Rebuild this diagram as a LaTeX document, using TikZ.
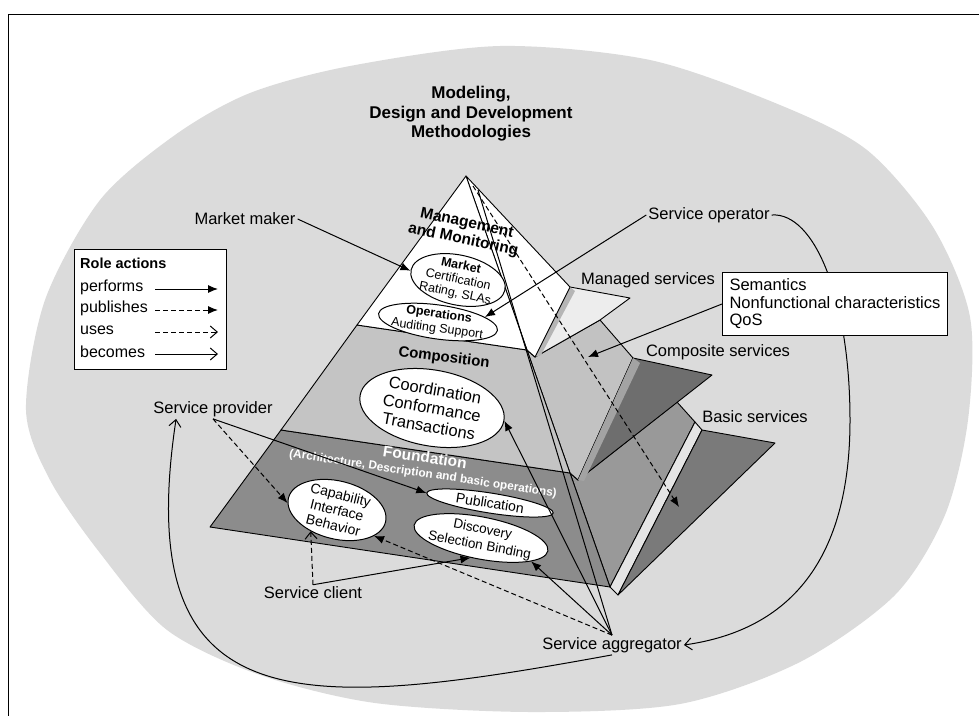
\documentclass[tikz,border=0pt]{standalone}
\usepackage{fontspec}
\setmainfont{Liberation Sans}
\usetikzlibrary{arrows.meta,shapes.geometric}
\tikzset{
    % role action arrows
    performs/.style={-{Latex[length=10pt,width=8pt]}, line width=1pt},
    publishes/.style={performs, dash pattern=on 5pt off 3pt},
    uses/.style={-{Straight Barb[length=7pt,width=12pt]}, line width=1pt, dash pattern=on 5pt off 3pt},
    becomes/.style={-{Straight Barb[length=7pt,width=12pt]}, line width=1pt},
    % labels and bubbles
    lbl/.style={font=\fontsize{16.5}{18}\selectfont, inner sep=2pt},
    bubble/.style={ellipse, draw, fill=white, line width=1pt, inner sep=-4pt, align=center},
    face/.style={draw, line width=0.9pt, line join=round}
}
\begin{document}
\begin{tikzpicture}[x=1pt,y=-1pt]
\useasboundingbox (0,0) rectangle (979,715);
% frame and background
\draw[line width=1pt] (8,716) -- (8,14) -- (980,14);
\fill[black!14] plot[smooth cycle] coordinates {(26,410) (45,300) (100,200) (175,135) (250,93) (350,66) (500,46) (650,60) (780,105) (867,150) (933,227) (970,317) (968,420) (945,515) (895,595) (800,662) (680,704) (530,712) (375,703) (260,675) (167,630) (100,553) (50,480)};

% pyramid corners
\coordinate (apex) at (466,176);
\coordinate (wl) at (357,325);
\coordinate (wr) at (527,350);
\coordinate (cl) at (281,430);
\coordinate (cr) at (570,473);
\coordinate (fl) at (210,527);
\coordinate (fr) at (610,587);
% right face corners
\coordinate (m1) at (570,287);
\coordinate (m2) at (630,298);
\coordinate (m3) at (600,320);
\coordinate (m4) at (535,357);
\coordinate (c1) at (633,358);
\coordinate (c2) at (712,375);
\coordinate (c3) at (578,480);
\coordinate (b1) at (677,402);
\coordinate (b2) at (695,422);
\coordinate (b3) at (702,430);
\coordinate (b4) at (775,443);
\coordinate (b5) at (618,595);

% right face
\filldraw[face, fill=black!40] (cr) -- (c3) -- (b1) -- (b2) -- (fr) -- cycle;
\filldraw[face, fill=black!10] (b2) -- (b3) -- (b5) -- (fr) -- cycle;
\filldraw[face, fill=black!52] (b3) -- (b4) -- (b5) -- cycle;
\filldraw[face, fill=black!24] (wr) -- (m4) -- (m3) -- (c1) -- (c3) -- (cr) -- cycle;
\filldraw[face, fill=black!57] (c1) -- (c2) -- (c3) -- cycle;
\fill[black!36] (c1) -- (640,363) -- (584,481) -- (c3) -- cycle;
\filldraw[face, fill=black!7] (m1) -- (m2) -- (m3) -- (m4) -- cycle;
\fill[black!29] (m1) -- (575,291) -- (541,355) -- (m4) -- cycle;
\filldraw[face, fill=white] (apex) -- (m1) -- (m4) -- (wr) -- cycle;

% front face
\filldraw[face, fill=black!45] (cl) -- (cr) -- (fr) -- (fl) -- cycle;
\filldraw[face, fill=black!23] (wl) -- (wr) -- (cr) -- (cl) -- cycle;
\filldraw[face, fill=white] (apex) -- (wr) -- (wl) -- cycle;

% bubbles
\node[bubble, rotate=-12, minimum width=96, minimum height=50, font=\fontsize{12.5}{14}\selectfont] (market) at (458,280) {\textbf{Market}\\Certification\\Rating, SLAs};
\node[bubble, rotate=-8, minimum width=120, minimum height=34, font=\fontsize{12.5}{14.5}\selectfont] (oper) at (438,322) {\textbf{Operations}\\Auditing Support};
\node[bubble, rotate=-10, minimum width=146, minimum height=76, font=\fontsize{16.5}{18.5}\selectfont] (coord) at (432,408) {Coordination\\Conformance\\Transactions};
\node[bubble, rotate=-14, minimum width=100, minimum height=58, font=\fontsize{14}{15.5}\selectfont] (capab) at (337,510) {Capability\\Interface\\Behavior};
\node[bubble, rotate=-9, minimum width=128, minimum height=20, font=\fontsize{14}{15}\selectfont] (publ) at (490,503) {Publication};
\node[bubble, rotate=-11, minimum width=134, minimum height=42, font=\fontsize{13.5}{16}\selectfont] (disc) at (481,538) {Discovery\\Selection Binding};

% layer titles
\node[font=\bfseries\fontsize{15.5}{17}\selectfont, rotate=-12, align=center] (mgmt) at (465,232) {Management\\and Monitoring};
\node[font=\bfseries\fontsize{15}{17}\selectfont, rotate=-7] (compo) at (444,358) {Composition};
\node[font=\bfseries\fontsize{15.5}{17}\selectfont, text=white, rotate=-8.5] (found) at (425,457) {Foundation};
\node[font=\bfseries\fontsize{11.8}{13}\selectfont, text=white, rotate=-8.5] (foundsub) at (423,474) {(Architecture, Description and basic operations)};

% title
\node[font=\bfseries\fontsize{17}{19.5}\selectfont, align=center] (title) at (471,114) {Modeling,\\Design and Development\\Methodologies};

% roles
\node[lbl] (mmaker) at (245,219) {Market maker};
\node[lbl] (soper) at (709,215) {Service operator};
\node[lbl] (managed) at (648,280) {Managed services};
\node[lbl] (composite) at (718,352) {Composite services};
\node[lbl] (basic) at (755,417) {Basic services};
\node[lbl] (sprov) at (213,409) {Service provider};
\node[lbl] (sclient) at (313,593) {Service client};
\node[lbl] (sagg) at (612,645) {Service aggregator};

% free ends
\coordinate (aggtop) at (478,190);
\coordinate (dashtop) at (473,186);
\coordinate (dashtip) at (679,507);
\coordinate (qostip) at (588,357);

% role actions
\draw[line width=1pt] (sagg.north) -- (aggtop);
\draw[publishes] (dashtop) -- (dashtip);
\draw[performs] (mmaker.east) -- (market.181);
\draw[performs] (soper.west) -- (oper.14);
\draw[publishes] (sprov.south) -- (capab.186);
\draw[performs] (sprov.south) -- (publ.west);
\draw[uses] (sclient.north) -- (capab.233);
\draw[performs] (sclient.north) -- (disc.253);
\draw[publishes] (sagg.north) -- (capab.-21);
\draw[performs] (sagg.north) -- (disc.-14);
\draw[performs] (sagg.north) -- (coord.east);
\draw[becomes] (sagg.south) .. controls (300,712) and (130,725) .. (sprov.195);
\draw[becomes] (soper.east) .. controls (815,212) and (850,300) .. (850,420) .. controls (850,560) and (790,630) .. (sagg.east);

% service properties
\node[lbl, draw, fill=white, line width=1pt, align=left, anchor=north west, inner xsep=7pt, minimum width=223, minimum height=63, font=\fontsize{16.5}{17.5}\selectfont] (qos) at (722,272) {Semantics\\Nonfunctional characteristics\\QoS};
\draw[performs] (qos.west) -- (qostip);

% legend
\node[draw, fill=white, line width=1pt, minimum width=152, minimum height=120, anchor=north west] (legend) at (74,249) {};
\node[font=\bfseries\fontsize{14.5}{16}\selectfont, anchor=west, inner sep=2pt] (roleact) at (78,263) {Role actions};
\node[lbl, anchor=west, font=\fontsize{16}{18}\selectfont] (lperf) at (78,287) {performs};
\node[lbl, anchor=west, font=\fontsize{16}{18}\selectfont] (lpubl) at (78,308) {publishes};
\node[lbl, anchor=west, font=\fontsize{16}{18}\selectfont] (luses) at (78,330) {uses};
\node[lbl, anchor=west, font=\fontsize{16}{18}\selectfont] (lbeco) at (78,352) {becomes};
\draw[performs] (155,289) -- (218,289);
\draw[publishes] (155,310) -- (218,310);
\draw[uses] (155,332) -- (218,332);
\draw[becomes] (155,354) -- (218,354);
\end{tikzpicture}
\end{document}
